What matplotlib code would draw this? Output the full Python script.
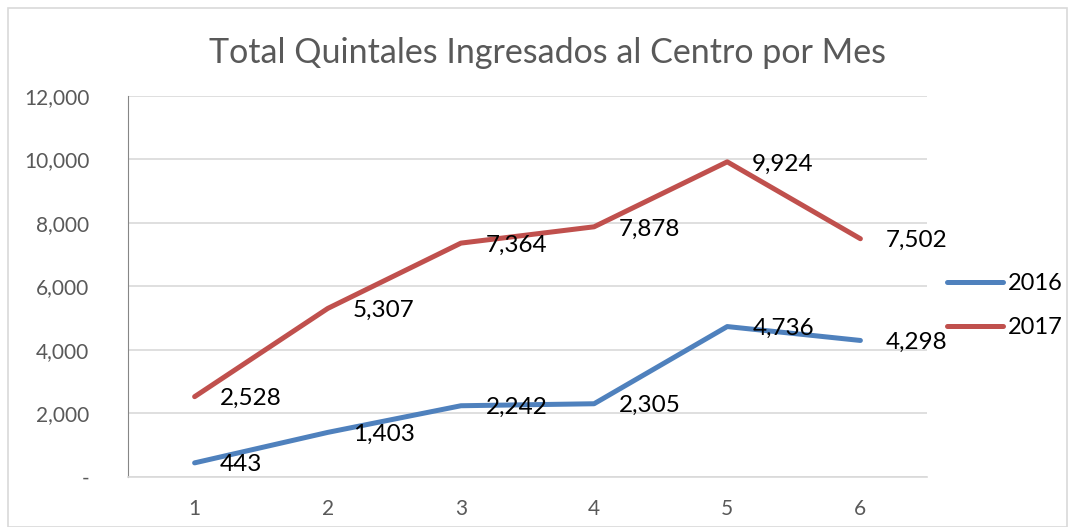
import matplotlib
matplotlib.use('Agg')
from matplotlib import pyplot as plt
from matplotlib.patches import Rectangle
from matplotlib.ticker import FuncFormatter

months = [1, 2, 3, 4, 5, 6]
q2016 = [443, 1403, 2242, 2305, 4736, 4298]
q2017 = [2528, 5307, 7364, 7878, 9924, 7502]
series_names = ["2016", "2017"]
title = "Total Quintales Ingresados al Centro por Mes"

plt.rcParams['font.family'] = ['Lato', 'DejaVu Sans']
grey = "#595959"

fig = plt.figure(figsize=(10.76, 5.27), dpi=100)
ax = fig.add_axes([0.119, 0.095, 0.7425, 0.723])
# light frame around the whole chart
fig.patches.append(Rectangle((0.007, 0.0), 0.985, 0.985, transform=fig.transFigure,
                             fill=False, edgecolor="#D9D9D9", linewidth=1.2))

for vals, color, name in [(q2016, "#4F81BD", series_names[0]), (q2017, "#C0504D", series_names[1])]:
    ax.plot(months, vals, color=color, linewidth=3.6, solid_capstyle="round", label=name)
    for x, v in zip(months, vals):
        ax.annotate(f"{v:,}", (x, v), xytext=(18, -1.5), textcoords="offset points",
                    ha="left", va="center", fontsize=17.5, color="black")

ax.set_xlim(0.5, 6.5)
ax.set_ylim(0, 12000)
ax.set_xticks(months)
ax.set_yticks(range(0, 12001, 2000))
ax.yaxis.set_major_formatter(FuncFormatter(lambda v, p: "-" if v == 0 else f"{int(v):,}"))
ax.tick_params(axis="both", length=0, labelsize=15, labelcolor=grey)
ax.tick_params(axis="y", pad=28)
ax.tick_params(axis="x", pad=16)
ax.grid(axis="y", color="#D9D9D9", linewidth=1.2)
ax.set_axisbelow(True)
ax.spines[["right", "top"]].set_visible(False)
ax.spines["left"].set_color("#868686")
ax.spines["bottom"].set_color("#D9D9D9")
ax.spines["bottom"].set_linewidth(1.2)

fig.suptitle(title, x=0.509, y=0.93, fontsize=24.5, color=grey)
fig.legend(loc="center left", bbox_to_anchor=(0.86, 0.42), frameon=False, fontsize=17,
           handlelength=2.4, handletextpad=0.2, labelspacing=1.0)

fig.savefig("out.png", dpi=100)
